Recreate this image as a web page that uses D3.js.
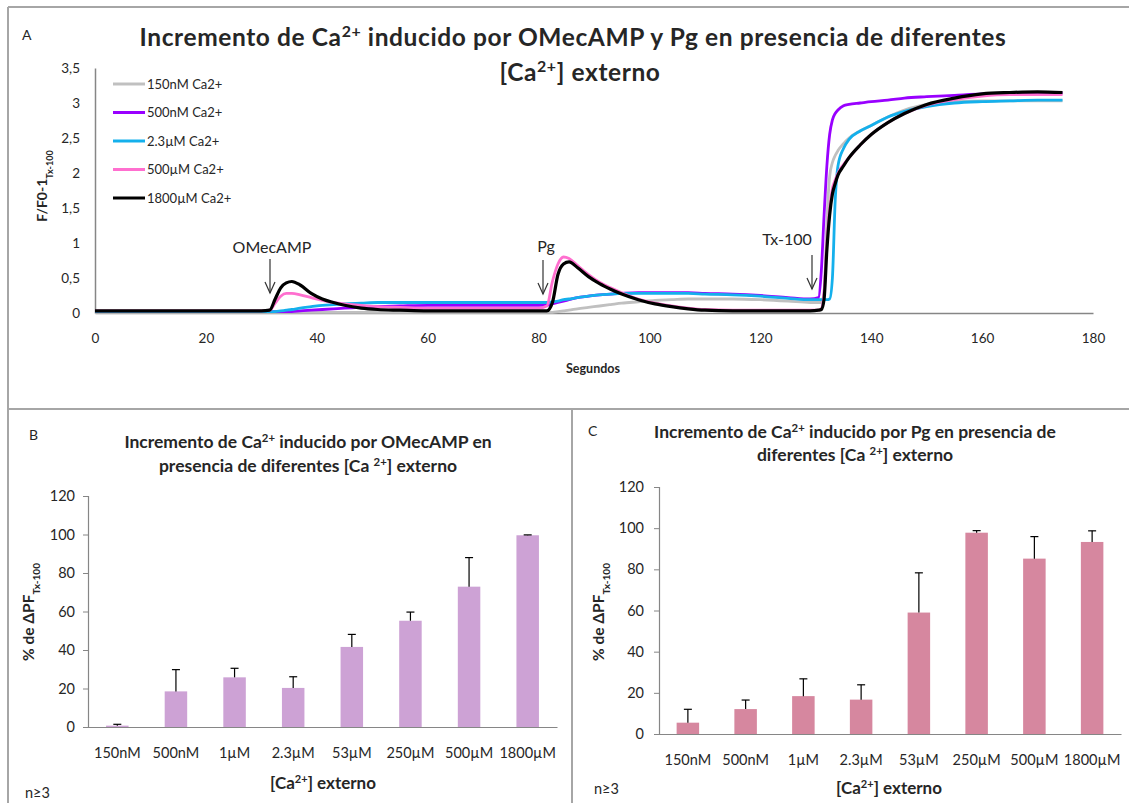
<!DOCTYPE html>
<html>
<head>
<meta charset="utf-8">
<script src="https://cdn.jsdelivr.net/npm/d3@7"></script>
<style>
  body { margin: 0; background: #fff; }
  svg { font-family: Lato, "Open Sans", sans-serif; }
</style>
</head>
<body>
<svg id="chart" width="1129" height="803"></svg>
<script>
// ---- Panel A: time traces (F/F0-1 normalised to Tx-100) ----
const timeSec = [0, 10, 20, 30, 31.5, 32.5, 33.5, 34.5, 35.5, 37, 39, 41, 43, 45, 48, 51, 55, 60, 65, 70, 75, 80,
  81.5, 82.5, 83.5, 84.5, 85.5, 87, 89, 91, 93, 95, 98, 101, 104, 107, 110, 115, 120, 125, 129,
  130.5, 131, 131.5, 132, 132.5, 133, 133.5, 134, 135, 136, 138, 140, 143, 146, 150, 155, 160, 165, 170, 174.5];

const trace150nM = [0.01, 0.01, 0.01, 0.01, 0.01, 0.01, 0.01, 0.01, 0.01, 0.01, 0.01, 0.01, 0.01, 0.01, 0.01, 0.01, 0.01, 0.01, 0.01, 0.01, 0.01, 0.01,
  0.01, 0.01, 0.02, 0.03, 0.04, 0.06, 0.08, 0.10, 0.12, 0.14, 0.16, 0.18, 0.19, 0.20, 0.20, 0.20, 0.19, 0.17, 0.15,
  0.15, 0.15, 0.30, 1.30, 1.95, 2.15, 2.25, 2.32, 2.42, 2.50, 2.60, 2.68, 2.80, 2.90, 2.98, 3.02, 3.03, 3.03, 3.03, 3.03];

const trace500nM = [0.02, 0.02, 0.02, 0.02, 0.02, 0.02, 0.02, 0.02, 0.02, 0.03, 0.04, 0.05, 0.06, 0.07, 0.08, 0.09, 0.10, 0.11, 0.11, 0.11, 0.11, 0.11,
  0.11, 0.13, 0.15, 0.17, 0.19, 0.22, 0.24, 0.26, 0.27, 0.28, 0.29, 0.29, 0.29, 0.29, 0.28, 0.27, 0.25, 0.22, 0.20,
  0.22, 0.60, 1.40, 2.10, 2.55, 2.76, 2.85, 2.90, 2.96, 2.98, 3.00, 3.02, 3.04, 3.07, 3.09, 3.11, 3.13, 3.14, 3.14, 3.14];

const trace2_3uM = [0.02, 0.02, 0.02, 0.02, 0.02, 0.02, 0.03, 0.04, 0.05, 0.07, 0.09, 0.11, 0.12, 0.13, 0.14, 0.15, 0.15, 0.15, 0.15, 0.15, 0.15, 0.15,
  0.15, 0.16, 0.17, 0.19, 0.20, 0.22, 0.24, 0.26, 0.27, 0.28, 0.28, 0.28, 0.28, 0.28, 0.27, 0.26, 0.24, 0.21, 0.19,
  0.19, 0.19, 0.19, 0.19, 0.20, 0.50, 1.60, 2.10, 2.35, 2.48, 2.60, 2.68, 2.80, 2.88, 2.95, 3.00, 3.02, 3.03, 3.04, 3.04];

const trace500uM = [0.03, 0.03, 0.03, 0.03, 0.04, 0.14, 0.24, 0.28, 0.28, 0.26, 0.22, 0.18, 0.15, 0.13, 0.11, 0.09, 0.08, 0.07, 0.07, 0.07, 0.07, 0.07,
  0.10, 0.45, 0.70, 0.80, 0.78, 0.68, 0.55, 0.44, 0.36, 0.29, 0.20, 0.14, 0.10, 0.07, 0.05, 0.04, 0.04, 0.04, 0.04,
  0.04, 0.06, 0.30, 1.00, 1.50, 1.78, 1.90, 2.00, 2.12, 2.22, 2.40, 2.55, 2.72, 2.85, 2.97, 3.05, 3.10, 3.12, 3.12, 3.12];

const trace1800uM = [0.03, 0.03, 0.03, 0.03, 0.04, 0.20, 0.36, 0.43, 0.45, 0.40, 0.28, 0.20, 0.15, 0.11, 0.07, 0.05, 0.04, 0.03, 0.03, 0.03, 0.03, 0.03,
  0.03, 0.15, 0.55, 0.70, 0.73, 0.65, 0.52, 0.42, 0.34, 0.27, 0.19, 0.13, 0.09, 0.06, 0.04, 0.03, 0.03, 0.03, 0.03,
  0.04, 0.05, 0.20, 0.90, 1.40, 1.70, 1.85, 1.97, 2.10, 2.22, 2.40, 2.55, 2.72, 2.85, 2.98, 3.07, 3.13, 3.15, 3.16, 3.15];

const traceNames = ["150nM Ca2+", "500nM Ca2+", "2.3µM Ca2+", "500µM Ca2+", "1800µM Ca2+"];
const traceColors = ["#c0c0c0", "#9900ff", "#14b0ec", "#ff6fcf", "#000000"];
const traceValues = [trace150nM, trace500nM, trace2_3uM, trace500uM, trace1800uM];

const xTicksA = [0, 20, 40, 60, 80, 100, 120, 140, 160, 180];
const yTicksA = [0, 0.5, 1, 1.5, 2, 2.5, 3, 3.5];

const eventLabels = ["OMecAMP", "Pg", "Tx-100"];

// ---- Panels B and C: bars ----
const caConc = ["150nM", "500nM", "1µM", "2.3µM", "53µM", "250µM", "500µM", "1800µM"];
const omecampMean = [0.7, 18.5, 25.8, 20.3, 41.6, 55.2, 72.9, 99.6];
const omecampErr = [0.7, 11.3, 4.7, 5.8, 6.5, 4.5, 15.1, 0.2];
const pgMean = [5.5, 12.1, 18.4, 16.7, 59.0, 97.8, 85.2, 93.3];
const pgErr = [6.5, 4.4, 8.4, 7.2, 19.3, 1.0, 10.7, 5.4];
const yTicksBar = [0, 20, 40, 60, 80, 100, 120];

const svg = d3.select("#chart");
const axisGray = "#868686";
const textCol = "#262626";

// panel borders
const border = svg.append("g").attr("stroke", "#a6a6a6").attr("stroke-width", 2);
border.append("line").attr("x1", 8).attr("y1", 7).attr("x2", 1129).attr("y2", 7);
border.append("line").attr("x1", 8).attr("y1", 7).attr("x2", 8).attr("y2", 803);
border.append("line").attr("x1", 8).attr("y1", 409).attr("x2", 1129).attr("y2", 409);
border.append("line").attr("x1", 572).attr("y1", 409).attr("x2", 572).attr("y2", 803);

// text with superscript / subscript pieces: parts = [[text, "sup"|"sub"|null], ...]
function richText(g, x, y, parts, size, weight, anchor, rotate) {
  const t = g.append("text")
    .attr("x", x).attr("y", y)
    .attr("text-anchor", anchor || "middle")
    .attr("font-size", size)
    .attr("font-weight", weight || "normal")
    .attr("fill", textCol);
  if (rotate) t.attr("transform", `rotate(-90,${x},${y})`);
  parts.forEach(p => {
    const s = t.append("tspan").text(p[0]);
    if (p[1] === "sup") s.attr("baseline-shift", "super").attr("font-size", size * 0.65);
    if (p[1] === "sub") s.attr("baseline-shift", "sub").attr("font-size", size * 0.65);
  });
  return t;
}

// ================= Panel A =================
const gA = svg.append("g");
const xA = d3.scaleLinear().domain([0, 180]).range([95, 1093]);
const yA = d3.scaleLinear().domain([0, 3.5]).range([313, 68]);

gA.append("text").attr("x", 22).attr("y", 40).attr("font-size", 14).attr("fill", textCol).text("A");

richText(gA, 573, 46, [["Incremento de Ca"], ["2+", "sup"], [" inducido por OMecAMP y Pg en presencia de diferentes"]], 24.5, "bold")
  .attr("letter-spacing", 0.6);
richText(gA, 580, 81, [["[Ca"], ["2+", "sup"], ["] externo"]], 24.5, "bold")
  .attr("letter-spacing", 0.6);

const axA_y = gA.append("g").attr("transform", `translate(${xA(0)},0)`)
  .call(d3.axisLeft(yA).tickValues(yTicksA).tickSize(0).tickPadding(15)
    .tickFormat(d => String(d).replace(".", ",")));
const axA_x = gA.append("g").attr("transform", `translate(0,${yA(0)})`)
  .call(d3.axisBottom(xA).tickValues(xTicksA).tickSize(0).tickPadding(20));
[axA_y, axA_x].forEach(a => {
  a.select(".domain").attr("stroke", axisGray).attr("stroke-width", 1.5);
  a.selectAll("text").attr("font-size", 13.5).attr("fill", textCol).attr("font-family", "Lato, sans-serif");
});

richText(gA, 47, 186, [["F/F0-1"], ["Tx-100", "sub"]], 14, "bold", "middle", true);
gA.append("text").attr("x", 593).attr("y", 373).attr("text-anchor", "middle")
  .attr("font-size", 12.5).attr("font-weight", "bold").attr("fill", textCol).text("Segundos");

const line = d3.line()
  .x(d => xA(d[0]))
  .y(d => yA(d[1]))
  .curve(d3.curveMonotoneX);

traceValues.forEach((vals, i) => {
  gA.append("path")
    .datum(timeSec.map((t, j) => [t, vals[j]]))
    .attr("d", line)
    .attr("fill", "none")
    .attr("stroke", traceColors[i])
    .attr("stroke-width", i === 4 ? 3.2 : 2.8)
    .attr("stroke-linejoin", "round");
});

// legend
const legend = gA.append("g");
traceNames.forEach((n, i) => {
  const ly = 84 + i * 28.5;
  legend.append("line").attr("x1", 113).attr("x2", 145).attr("y1", ly).attr("y2", ly)
    .attr("stroke", traceColors[i]).attr("stroke-width", 3);
  legend.append("text").attr("x", 147).attr("y", ly + 4.5).attr("font-size", 13)
    .attr("fill", textCol).text(n);
});

// event arrows
const eventText = [[272, 253], [546, 252], [787, 245]];
const eventArrow = [[270, 259, 293], [543, 260, 294], [812, 255, 289]];
eventLabels.forEach((lab, i) => {
  gA.append("text").attr("x", eventText[i][0]).attr("y", eventText[i][1])
    .attr("text-anchor", "middle").attr("font-size", 16).attr("fill", textCol).text(lab);
  const [ax, ay1, ay2] = eventArrow[i];
  const arr = gA.append("g").attr("stroke", "#333").attr("stroke-width", 1.2).attr("fill", "none");
  arr.append("line").attr("x1", ax).attr("x2", ax).attr("y1", ay1).attr("y2", ay2);
  arr.append("polyline").attr("points", `${ax - 5},${ay2 - 11} ${ax},${ay2} ${ax + 5},${ay2 - 11}`);
});

// ================= Bar panels =================
function barPanel(opt) {
  const g = svg.append("g");
  const x = d3.scaleBand().domain(caConc).range([opt.x0, opt.x1]).padding(0);
  const y = d3.scaleLinear().domain([0, 120]).range([opt.y0, opt.y1]);
  const bw = 22.5;

  g.append("text").attr("x", opt.letterX).attr("y", opt.letterY).attr("font-size", 14)
    .attr("fill", textCol).text(opt.letter);
  opt.title.forEach((ln, i) => richText(g, opt.titleX, opt.titleY[i], ln, 17.5, "bold"));

  const ay = g.append("g").attr("transform", `translate(${opt.x0},0)`)
    .call(d3.axisLeft(y).tickValues(yTicksBar).tickSize(5).tickPadding(opt.yPad));
  const ax = g.append("g").attr("transform", `translate(0,${opt.y0})`)
    .call(d3.axisBottom(x).tickSize(0).tickPadding(opt.xPad));
  [ay, ax].forEach(a => {
    a.select(".domain").attr("stroke", axisGray).attr("stroke-width", 1.2);
    a.selectAll(".tick line").attr("stroke", axisGray);
    a.selectAll("text").attr("font-size", 14.5).attr("fill", textCol).attr("font-family", "Lato, sans-serif");
  });

  g.selectAll(".bar").data(caConc).enter().append("rect")
    .attr("x", d => x(d) + x.bandwidth() / 2 - bw / 2)
    .attr("y", (d, i) => y(opt.mean[i]))
    .attr("width", bw)
    .attr("height", (d, i) => opt.y0 - y(opt.mean[i]))
    .attr("fill", opt.color);

  const eb = g.append("g").attr("stroke", "#000").attr("stroke-width", 1.2);
  caConc.forEach((c, i) => {
    const cx = x(c) + x.bandwidth() / 2;
    const top = y(opt.mean[i] + opt.err[i]);
    eb.append("line").attr("x1", cx).attr("x2", cx).attr("y1", y(opt.mean[i])).attr("y2", top);
    eb.append("line").attr("x1", cx - 4).attr("x2", cx + 4).attr("y1", top).attr("y2", top);
  });

  richText(g, opt.yTitleX, 612, [["% de ΔPF"], ["Tx-100", "sub"]], 15.5, "bold", "middle", true);
  richText(g, opt.xTitleX, opt.xTitleY, [["[Ca"], ["2+", "sup"], ["] externo"]], 17, "bold");
  g.append("text").attr("x", opt.nX).attr("y", opt.nY).attr("font-size", 14.5).attr("fill", textCol).text("n≥3");
}

barPanel({
  x0: 88, x1: 557, y0: 727, y1: 496, xPad: 21, yPad: 8,
  mean: omecampMean, err: omecampErr, color: "#cda2d5",
  letter: "B", letterX: 29, letterY: 440,
  title: [[["Incremento de Ca"], ["2+", "sup"], [" inducido por OMecAMP en"]],
          [["presencia de diferentes [Ca "], ["2+", "sup"], ["] externo"]]],
  titleX: 308, titleY: [448, 472],
  yTitleX: 34, xTitleX: 323, xTitleY: 789, nX: 25, nY: 798
});

barPanel({
  x0: 659, x1: 1121, y0: 734, y1: 487, xPad: 21, yPad: 10,
  mean: pgMean, err: pgErr, color: "#d6879f",
  letter: "C", letterX: 588, letterY: 436,
  title: [[["Incremento de Ca"], ["2+", "sup"], [" inducido por Pg en presencia de"]],
          [["diferentes [Ca "], ["2+", "sup"], ["] externo"]]],
  titleX: 855, titleY: [438, 461],
  yTitleX: 604, xTitleX: 889, xTitleY: 794, nX: 594, nY: 794
});
</script>
</body>
</html>
